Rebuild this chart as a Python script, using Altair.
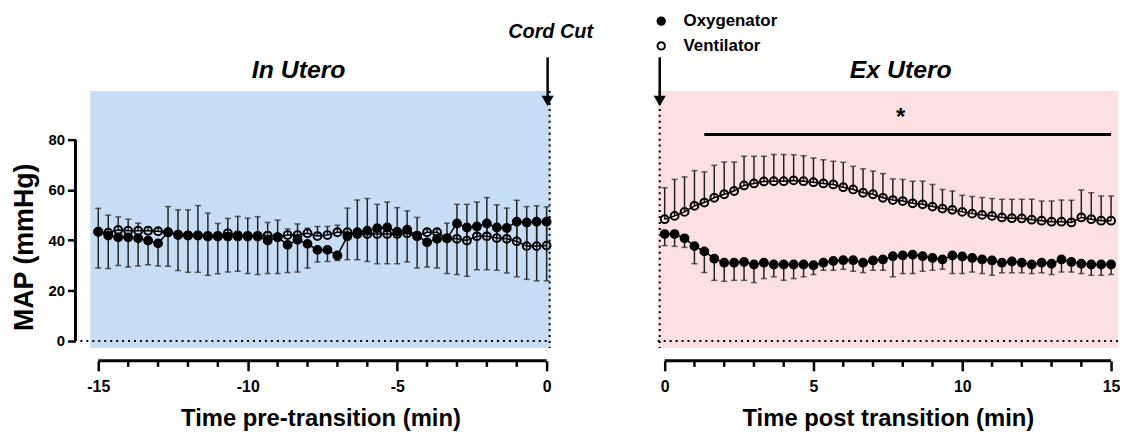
import altair as alt
import pandas as pd

# ---------------- data ----------------
N_PTS = 46
pre_time = [round(-15 + i / 3, 4) for i in range(N_PTS)]
post_time = [round(i / 3, 4) for i in range(N_PTS)]

series_names = ["Oxygenator", "Ventilator"]

pre_oxy = [43.4, 41.9, 41.2, 41.2, 40.8, 39.9, 38.8, 43.2, 42.1, 41.9,
           41.9, 41.5, 41.5, 41.5, 41.5, 41.5, 41.5, 39.9, 41.2, 38.2,
           40.2, 38.6, 36.2, 36.2, 34.0, 41.6, 43.2, 43.8, 44.8, 45.1,
           43.4, 44.2, 41.9, 39.2, 40.6, 40.8, 46.7, 45.1, 45.5, 46.7,
           45.1, 44.9, 47.4, 47.1, 47.4, 47.4]
pre_oxy_lo = [29.0, 28.8, 30.0, 29.4, 29.8, 30.3, 29.8, 29.7, 28.0, 27.3,
              27.3, 26.1, 26.7, 27.4, 27.7, 26.8, 26.4, 26.8, 26.8, 27.2,
              27.4, 29.0, 31.4, 31.6, 32.0, 32.3, 32.3, 31.6, 30.7, 30.7,
              30.7, 31.4, 29.0, 29.4, 29.0, 26.8, 26.4, 25.7, 28.3, 28.3,
              28.1, 27.0, 25.5, 24.5, 23.9, 23.9]
pre_vent = [43.4, 43.0, 44.1, 43.8, 43.8, 43.8, 43.6, 43.2, 42.3, 42.0,
            42.0, 41.8, 41.8, 42.8, 42.0, 41.8, 41.8, 41.9, 41.3, 42.1,
            42.1, 42.8, 41.7, 42.1, 43.2, 43.2, 42.5, 42.5, 42.5, 42.5,
            42.5, 42.8, 41.6, 43.2, 43.2, 40.8, 40.6, 39.9, 41.6, 41.6,
            40.9, 40.6, 39.6, 37.7, 37.7, 37.9]
pre_vent_hi = [52.7, 50.0, 49.3, 48.4, 46.8, 45.4, 44.8, 53.4, 52.1, 52.1,
               53.8, 50.8, 46.7, 48.7, 49.5, 48.8, 49.4, 47.1, 48.0, 44.5,
               46.5, 44.8, 45.5, 45.5, 46.0, 52.8, 56.0, 56.6, 54.3, 55.2,
               53.0, 51.7, 49.1, 44.5, 44.5, 46.8, 54.3, 54.3, 55.2, 57.0,
               54.1, 52.8, 55.9, 53.4, 53.7, 53.3]

post_oxy = [42.5, 42.5, 40.8, 37.7, 35.6, 32.7, 31.1, 31.1, 31.4, 30.4,
            31.1, 30.4, 30.4, 30.4, 30.4, 30.1, 31.1, 31.8, 32.1, 32.1,
            31.1, 32.0, 32.4, 33.7, 34.0, 34.3, 33.7, 33.0, 32.4, 34.0,
            33.6, 33.0, 32.4, 32.0, 31.1, 31.6, 31.1, 30.4, 31.1, 30.7,
            32.4, 31.4, 30.7, 30.4, 30.4, 30.4]
post_oxy_lo = [37.9, 37.6, 37.2, 30.7, 27.2, 24.1, 23.7, 24.1, 24.1, 23.2,
               24.8, 25.5, 24.1, 24.8, 25.5, 26.4, 28.1, 28.1, 28.5, 27.7,
               27.2, 28.1, 28.1, 25.5, 26.8, 26.8, 27.7, 28.1, 28.5, 26.8,
               26.8, 27.4, 26.8, 26.1, 27.1, 27.1, 27.1, 26.8, 27.1, 26.4,
               27.4, 27.4, 26.8, 26.1, 26.1, 26.4]
post_vent = [48.4, 49.7, 51.3, 53.7, 55.0, 56.9, 58.3, 59.6, 61.8, 62.6,
             63.4, 63.5, 63.5, 63.8, 63.5, 63.1, 62.6, 62.2, 61.1, 60.2,
             58.9, 58.3, 56.9, 56.0, 55.6, 54.7, 54.3, 53.4, 52.6, 52.1,
             51.3, 50.6, 50.1, 49.7, 49.1, 48.8, 48.7, 48.2, 47.8, 47.4,
             47.4, 47.1, 49.1, 48.4, 47.8, 47.8]
post_vent_hi = [60.9, 64.2, 65.2, 67.7, 67.2, 69.8, 71.1, 71.1, 73.4, 73.4,
                73.4, 74.1, 74.1, 74.0, 73.6, 72.7, 72.0, 71.4, 71.0, 69.4,
                68.4, 67.5, 66.5, 64.4, 64.2, 63.5, 63.5, 62.2, 60.2, 59.6,
                57.9, 57.4, 57.0, 56.6, 56.3, 56.3, 56.3, 56.3, 55.6, 55.6,
                56.0, 55.9, 60.0, 58.9, 57.6, 57.6]

pre_major_ticks = [-15, -10, -5, 0]
pre_minor_ticks = [-14, -13, -12, -11, -9, -8, -7, -6, -4, -3, -2, -1]
post_major_ticks = [0, 5, 10, 15]
post_minor_ticks = [1, 2, 3, 4, 6, 7, 8, 9, 11, 12, 13, 14]
y_ticks = [0, 20, 40, 60, 80]

sig_start, sig_end, sig_level = 1.33, 15.0, 82.0
star_time, star_level = 7.93, 90.6

# ---------------- layout constants ----------------
W, H = 464, 259
Y_DOM = [-2.76, 99.3]
PRE_DOM = [-15.266, 0.133]
POST_DOM = [-0.233, 15.233]
FONT = "Liberation Sans"
BLUE = "#c7dcf5"
PINK = "#fde0e1"


def long_df(t, oxy, oxy_lo, vent, vent_hi):
    rows = []
    for i in range(len(t)):
        rows.append(dict(time=t[i], series="Ventilator", mean=vent[i], end=vent_hi[i]))
        rows.append(dict(time=t[i], series="Oxygenator", mean=oxy[i], end=oxy_lo[i]))
    return pd.DataFrame(rows)


def panel(df, xdom, major, minor, x_title, bg, left):
    xs = alt.Scale(domain=xdom, nice=False, zero=False)
    ys = alt.Scale(domain=Y_DOM, nice=False, zero=False)
    one = pd.DataFrame({"v": [0]})

    x_axis = alt.Axis(values=major, offset=13, domain=False, grid=False,
                      tickSize=10, tickWidth=2.5, tickColor="black",
                      labelFontSize=16, labelFontWeight="bold", labelColor="black",
                      labelPadding=8, labelFont=FONT,
                      labelExpr="(datum.value < 0 ? '-' : '') + abs(datum.value)",
                      title=x_title, titleFontSize=24, titleFontWeight="bold",
                      titleColor="black", titleFont=FONT, titlePadding=12)
    if left:
        y_axis = alt.Axis(values=y_ticks, offset=15, domain=False, grid=False,
                          tickSize=8, tickWidth=2.5, tickColor="black",
                          labelFontSize=15, labelFontWeight="bold", labelColor="black",
                          labelPadding=3, labelFont=FONT,
                          title="MAP (mmHg)", titleFontSize=27, titleFontWeight="bold",
                          titleColor="black", titleFont=FONT,
                          titleX=-51, titleY=157, titleAngle=-90,
                          titleAlign="center", titleBaseline="middle")
        legend = None
    else:
        y_axis = None
        legend = alt.Legend(orient="none", legendX=-5, legendY=-79, title=None,
                            labelFontSize=17, labelFontWeight="bold", labelFont=FONT,
                            labelColor="black", symbolType="circle", symbolSize=55,
                            symbolStrokeWidth=2, symbolStrokeColor="black",
                            rowPadding=7, labelOffset=14)

    def X(field):
        return alt.X(field, scale=xs, axis=x_axis)

    def Y(field):
        return alt.Y(field, scale=ys, axis=y_axis)

    bg_rect = alt.Chart(one).mark_rect(color=bg).encode(
        x=alt.value(0), x2=alt.value(W), y=alt.value(0), y2=alt.value(H))

    zero_line = alt.Chart(one).mark_rule(
        color="black", strokeWidth=2, strokeDash=[2, 4]).encode(
        x=alt.value(-10 if left else 0), x2=alt.value(W), y=Y("v:Q"))

    edge_line = alt.Chart(one).mark_rule(
        color="black", strokeWidth=2, strokeDash=[2, 4]).encode(
        x=alt.value(W - 1 if left else 2), y=alt.value(0), y2=alt.value(H))

    xline_df = pd.DataFrame({"a": [major[0]], "b": [major[-1]]})
    x_line = alt.Chart(xline_df).mark_rule(color="black", strokeWidth=3).encode(
        x=X("a:Q"), x2="b:Q", y=alt.value(H + 13))

    minor_df = pd.DataFrame({"t": minor})
    minor_marks = alt.Chart(minor_df).mark_rule(color="black", strokeWidth=2.5).encode(
        x=X("t:Q"), y=alt.value(H + 13), y2=alt.value(H + 19))

    err = alt.Chart(df).mark_rule(color="#222222", strokeWidth=1.5).encode(
        x=X("time:Q"), y=Y("mean:Q"), y2="end:Q")
    caps = alt.Chart(df).mark_tick(
        color="#222222", orient="horizontal", size=6, thickness=1.5).encode(
        x=X("time:Q"), y=Y("end:Q"))
    lines = alt.Chart(df).mark_line(color="black", strokeWidth=1.5).encode(
        x=X("time:Q"), y=Y("mean:Q"), detail="series:N")

    pts = alt.Chart(df).mark_point(
        shape="circle", size=62, strokeWidth=2, stroke="black",
        opacity=1, fillOpacity=1).encode(
        x=X("time:Q"), y=Y("mean:Q"),
        fill=alt.Fill("series:N",
                      scale=alt.Scale(domain=series_names, range=["black", "transparent"]),
                      legend=legend),
        order=alt.Order("series:N", sort="descending"))

    layers = [bg_rect, zero_line, edge_line, x_line, minor_marks, err, caps, lines, pts]

    if left:
        yline_df = pd.DataFrame({"a": [y_ticks[0]], "b": [y_ticks[-1]]})
        y_line = alt.Chart(yline_df).mark_rule(color="black", strokeWidth=3).encode(
            y=Y("a:Q"), y2="b:Q", x=alt.value(-15))
        layers.append(y_line)

    ax = W - 3 if left else 2
    shaft = alt.Chart(one).mark_rule(color="black", strokeWidth=2.5).encode(
        x=alt.value(ax), y=alt.value(-34), y2=alt.value(6))
    head = alt.Chart(one).mark_point(
        shape="triangle-down", filled=True, color="black", size=150, opacity=1).encode(
        x=alt.value(ax), y=alt.value(10))
    layers += [shaft, head]

    ttl = pd.DataFrame({"label": ["In Utero" if left else "Ex Utero"]})
    title_txt = alt.Chart(ttl).mark_text(
        font=FONT, fontSize=25, fontWeight="bold", fontStyle="italic",
        color="black", align="center", baseline="middle").encode(
        text="label:N", x=alt.value(210 if left else 245), y=alt.value(-21))
    layers.append(title_txt)

    if left:
        cc = pd.DataFrame({"label": ["Cord Cut"]})
        cc_txt = alt.Chart(cc).mark_text(
            font=FONT, fontSize=20, fontWeight="bold", fontStyle="italic",
            color="black", align="center", baseline="middle").encode(
            text="label:N", x=alt.value(W), y=alt.value(-59))
        layers.append(cc_txt)
    else:
        sig_df = pd.DataFrame({"a": [sig_start], "b": [sig_end], "y": [sig_level]})
        sig = alt.Chart(sig_df).mark_rule(color="black", strokeWidth=3).encode(
            x=X("a:Q"), x2="b:Q", y=Y("y:Q"))
        star_df = pd.DataFrame({"t": [star_time], "y": [star_level], "label": ["*"]})
        star = alt.Chart(star_df).mark_text(
            font=FONT, fontSize=24, fontWeight="bold", color="black",
            align="center", baseline="middle", dy=5).encode(
            x=X("t:Q"), y=Y("y:Q"), text="label:N")
        layers += [sig, star]

    return alt.layer(*layers).properties(width=W, height=H)


pre_df = long_df(pre_time, pre_oxy, pre_oxy_lo, pre_vent, pre_vent_hi)
post_df = long_df(post_time, post_oxy, post_oxy_lo, post_vent, post_vent_hi)

left_panel = panel(pre_df, PRE_DOM, pre_major_ticks, pre_minor_ticks,
                   "Time pre-transition (min)", BLUE, True)
right_panel = panel(post_df, POST_DOM, post_major_ticks, post_minor_ticks,
                    "Time post transition (min)", PINK, False)

chart = alt.hconcat(left_panel, right_panel, spacing=108, bounds="flush").resolve_scale(
    x="independent", y="independent", fill="independent"
).resolve_legend(fill="independent").properties(
    padding={"left": 3, "top": 3, "right": 0, "bottom": 0}
).configure(font=FONT).configure_view(stroke=None)

chart.save("out.html", embed_options={"renderer": "svg", "actions": False})
